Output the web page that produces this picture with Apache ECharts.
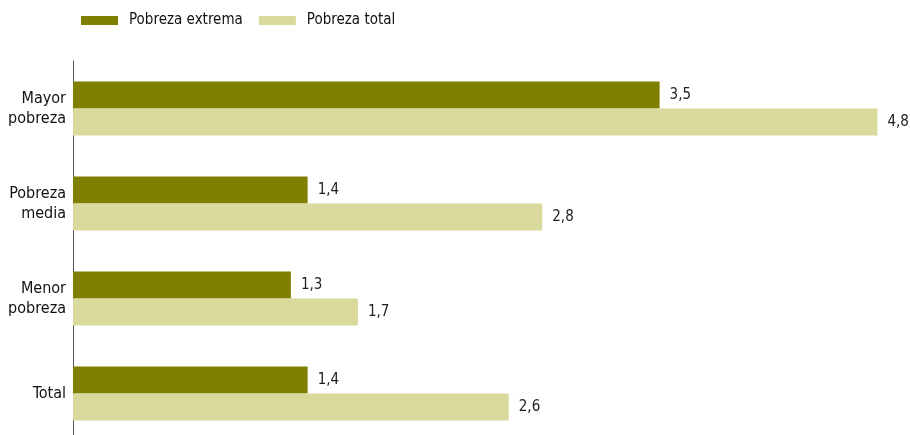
<!DOCTYPE html>
<html>
<head>
<meta charset="utf-8">
<script src="https://cdn.jsdelivr.net/npm/echarts@6/dist/echarts.min.js"></script>
<style>
  html, body { margin: 0; padding: 0; background: #fff; }
  #chart { width: 910px; height: 435px; }
</style>
</head>
<body>
<div id="chart"></div>
<script>
// Poverty groups (top to bottom)
const categories = ['Mayor\npobreza', 'Pobreza\nmedia', 'Menor\npobreza', 'Total'];
// Series values
const extremaValues = [3.5, 1.4, 1.3, 1.4];
const totalValues = [4.8, 2.8, 1.7, 2.6];
const seriesNames = ['Pobreza extrema', 'Pobreza total'];

const FONT = '"DejaVu Sans Condensed", "Liberation Sans Narrow", "Noto Sans", sans-serif';
const fmt = v => String(v).replace('.', ',');

const valueLabel = {
  show: true, position: 'right', distance: 10,
  fontSize: 15, color: '#222', fontFamily: FONT,
  formatter: p => fmt(p.value)
};

const chart = echarts.init(document.getElementById('chart'));
chart.setOption({
  animation: false,
  textStyle: { fontFamily: FONT },
  legend: {
    left: 76, top: 8,
    itemWidth: 37, itemHeight: 9, itemGap: 16,
    icon: 'rect',
    textStyle: { fontSize: 15, fontWeight: 500, color: '#111', fontFamily: FONT, padding: [0, 0, 0, 6] },
    data: seriesNames
  },
  grid: { left: 73, top: 61, width: 838, height: 380, outerBoundsMode: 'none', containLabel: false },
  xAxis: {
    type: 'value', min: 0, max: 5,
    show: false
  },
  yAxis: {
    type: 'category', inverse: true, data: categories,
    axisLine: { show: true, lineStyle: { color: '#555', width: 1 } },
    axisTick: { show: false },
    axisLabel: {
      fontSize: 16, color: '#111', margin: 7, lineHeight: 20, align: 'right',
      padding: [0, 0, 6, 0], fontFamily: FONT
    }
  },
  series: [
    {
      name: seriesNames[0], type: 'bar', data: extremaValues,
      barWidth: 27, barGap: '0%',
      itemStyle: { color: '#7f7f00' },
      label: valueLabel
    },
    {
      name: seriesNames[1], type: 'bar', data: totalValues,
      barWidth: 27, barGap: '0%',
      itemStyle: { color: '#d9d99b' },
      label: valueLabel
    }
  ]
});
</script>
</body>
</html>
